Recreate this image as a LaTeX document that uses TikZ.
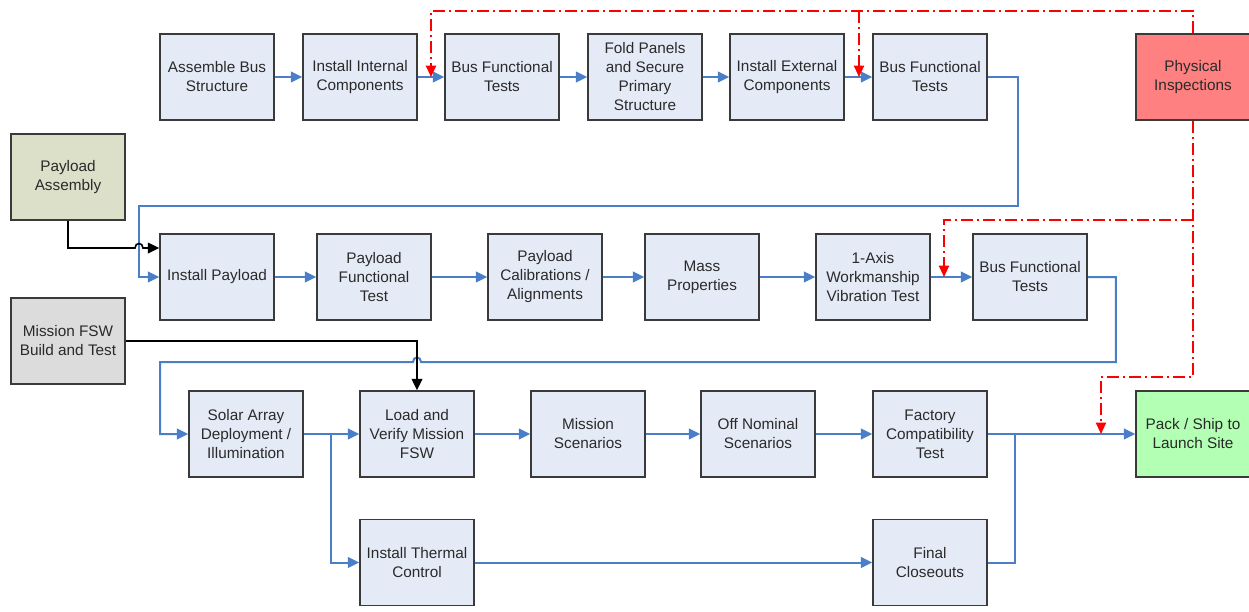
\documentclass[tikz,border=0pt]{standalone}
\usepackage{fontspec}
\setmainfont{Liberation Sans}
\usetikzlibrary{arrows.meta}
\definecolor{boxfill}{HTML}{E5EBF6}
\definecolor{boxline}{HTML}{3A3A3A}
\definecolor{flowc}{HTML}{4A7EC8}
\definecolor{inspfill}{HTML}{FF8080}
\definecolor{packfill}{HTML}{B3FFB3}
\definecolor{payfill}{HTML}{DDE0C9}
\definecolor{fswfill}{HTML}{DCDCDC}
\definecolor{redl}{HTML}{FF0000}
\definecolor{txt}{HTML}{2A2A2A}
\begin{document}
\begin{tikzpicture}[x=0.75pt,y=-0.75pt,
 box/.style={draw=boxline, line width=1.2pt, fill=boxfill, minimum width=85.5pt, minimum height=64.5pt, inner sep=1pt, align=center, text=txt, font=\fontsize{11.5}{14.25}\selectfont},
 flowline/.style={draw=flowc, line width=1.5pt},
 flowarrow/.style={flowline, -{Triangle[length=8.5pt,width=8pt]}},
 blackarrow/.style={draw=black, line width=1.2pt, -{Triangle[length=8.5pt,width=8pt]}},
 redarrow/.style={draw=redl, line width=1.5pt, dash pattern=on 9pt off 3pt on 1.5pt off 3pt, -{Triangle[length=8.5pt,width=7.5pt]}},
 redline/.style={draw=redl, line width=1.5pt, dash pattern=on 9pt off 3pt on 1.5pt off 3pt}]
\useasboundingbox (0,0) rectangle (1249,611);
% row 1
\node[box] (ab) at (217,77) {Assemble Bus\\Structure};
\node[box] (ii) at (360,77) {Install Internal\\Components};
\node[box] (bf1) at (502,77) {Bus Functional\\Tests};
\node[box] (fp) at (645,77) {Fold Panels\\and Secure\\Primary\\Structure};
\node[box] (ie) at (787,77) {Install External\\Components};
\node[box] (bf2) at (930,77) {Bus Functional\\Tests};
\node[box, fill=inspfill] (pi) at (1193,77) {Physical\\Inspections};
% side inputs
\node[box, fill=payfill] (pa) at (68,177) {Payload\\Assembly};
\node[box, fill=fswfill] (fsw) at (68,341) {Mission FSW\\Build and Test};
% row 2
\node[box] (ip) at (217,277) {Install Payload};
\node[box] (pft) at (374,277) {Payload\\Functional\\Test};
\node[box] (pc) at (545,277) {Payload\\Calibrations /\\Alignments};
\node[box] (mp) at (702,277) {Mass\\Properties};
\node[box] (ax) at (873,277) {1-Axis\\Workmanship\\Vibration Test};
\node[box] (bf3) at (1030,277) {Bus Functional\\Tests};
% row 3
\node[box] (sa) at (246,434) {Solar Array\\Deployment /\\Illumination};
\node[box] (lv) at (417,434) {Load and\\Verify Mission\\FSW};
\node[box] (ms) at (588,434) {Mission\\Scenarios};
\node[box] (on) at (758,434) {Off Nominal\\Scenarios};
\node[box] (fc) at (930,434) {Factory\\Compatibility\\Test};
\node[box, fill=packfill] (ps) at (1193,434) {Pack / Ship to\\Launch Site};
% row 4
\node[box] (it) at (417,562.5) {Install Thermal\\Control};
\node[box] (fcl) at (930,562.5) {Final\\Closeouts};
% red targets
\coordinate (r1) at (431,77);
\coordinate (r2) at (859,77);
\coordinate (r3) at (944,277);
\coordinate (r4) at (1101,434);
% row 1 flow
\draw[flowarrow] (ab) -- (ii);
\draw[flowarrow] (ii) -- (bf1);
\draw[flowarrow] (bf1) -- (fp);
\draw[flowarrow] (fp) -- (ie);
\draw[flowarrow] (ie) -- (bf2);
\draw[flowarrow] (bf2.east) -- ++(30,0) |- (139,206) |- (ip.west);
% payload assembly
\draw[blackarrow] (pa.south) |- (135,248) .. controls (135,242) and (143,242) .. (143,248) -- (ip.west |- 0,248);
% row 2 flow
\draw[flowarrow] (ip) -- (pft);
\draw[flowarrow] (pft) -- (pc);
\draw[flowarrow] (pc) -- (mp);
\draw[flowarrow] (mp) -- (ax);
\draw[flowarrow] (ax) -- (bf3);
\draw[flowarrow] (bf3.east) -- ++(28,0) |- (421,362) .. controls (421,356) and (413,356) .. (413,362) -| (160,434) -- (sa.west);
% mission FSW
\draw[blackarrow] (fsw.east |- 0,341) -| (lv.north);
% row 3 flow
\draw[flowarrow] (sa) -- (lv);
\draw[flowarrow] (lv) -- (ms);
\draw[flowarrow] (ms) -- (on);
\draw[flowarrow] (on) -- (fc);
\draw[flowarrow] (fc) -- (ps);
\draw[flowarrow] (331,434) |- (it.west);
\draw[flowarrow] (it) -- (fcl);
\draw[flowline] (fcl.east) -| (1015,434);
% inspections
\draw[redarrow] (pi.north) |- (r1 |- 0,11) -- (r1);
\draw[redarrow] (r2 |- 0,11) -- (r2);
\draw[redarrow] (pi.south |- 0,220) -| (r3);
\draw[redarrow] (pi.south) |- (r4 |- 0,377) -- (r4);
\end{tikzpicture}
\end{document}
